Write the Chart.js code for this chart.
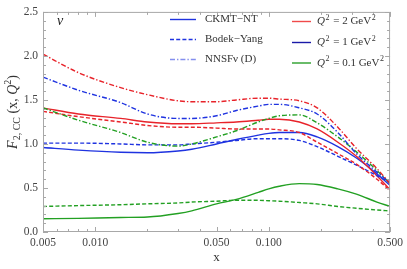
<!DOCTYPE html>
<html><head><meta charset="utf-8">
<script src="https://cdn.jsdelivr.net/npm/chart.js@4/dist/chart.umd.min.js"></script>
<style>html,body{margin:0;padding:0;background:#fff}#wrap{width:407px;height:269px}
.pre{font-family:"Liberation Serif";position:absolute;left:-999px}</style>
</head><body><span class="pre">x <i>x</i></span><div id="wrap"><canvas id="c" width="407" height="269"></canvas></div>
<script>
const xs = [0.005, 0.008, 0.014, 0.02, 0.03, 0.036, 0.05, 0.065, 0.087, 0.1, 0.115, 0.15, 0.19, 0.25, 0.32, 0.42, 0.5];
const ckmtQ2  = [1.41, 1.34, 1.29, 1.25, 1.23, 1.23, 1.24, 1.25, 1.27, 1.28, 1.28, 1.25, 1.17, 1.02, 0.86, 0.64, 0.48];
const ckmtQ1  = [0.96, 0.93, 0.905, 0.90, 0.92, 0.94, 1.00, 1.05, 1.10, 1.12, 1.13, 1.13, 1.08, 0.97, 0.84, 0.66, 0.53];
const ckmtQ01 = [0.15, 0.155, 0.165, 0.17, 0.21, 0.24, 0.32, 0.37, 0.45, 0.49, 0.52, 0.55, 0.54, 0.49, 0.43, 0.34, 0.29];
const byQ2    = [1.37, 1.31, 1.25, 1.21, 1.19, 1.19, 1.18, 1.17, 1.17, 1.17, 1.16, 1.13, 1.02, 0.89, 0.77, 0.60, 0.47];
const byQ1    = [1.01, 1.01, 1.00, 0.99, 0.99, 1.00, 1.02, 1.04, 1.06, 1.06, 1.06, 1.04, 0.97, 0.86, 0.76, 0.64, 0.56];
const byQ01   = [0.29, 0.30, 0.31, 0.32, 0.33, 0.34, 0.35, 0.36, 0.36, 0.355, 0.35, 0.335, 0.32, 0.29, 0.27, 0.25, 0.24];
const nnQ2    = [2.02, 1.81, 1.64, 1.56, 1.49, 1.48, 1.48, 1.50, 1.52, 1.52, 1.51, 1.49, 1.41, 1.19, 0.95, 0.72, 0.55];
const nnQ1    = [1.76, 1.61, 1.47, 1.34, 1.29, 1.29, 1.32, 1.38, 1.43, 1.45, 1.45, 1.41, 1.34, 1.13, 0.89, 0.68, 0.56];
const nnQ01   = [1.41, 1.27, 1.13, 1.02, 0.975, 1.00, 1.08, 1.15, 1.25, 1.29, 1.32, 1.33, 1.24, 1.08, 0.91, 0.70, 0.55];
const xTicks = [0.005, 0.01, 0.05, 0.1, 0.5];
const yTicks = [0, 0.5, 1.0, 1.5, 2.0, 2.5];

const RED = '#e8232a', BLUE = '#1f33e0', GREEN = '#23a023';
const SOLID = [], DASH = [4, 2.2], DOTDASH = [5, 2, 1.4, 2];
function pts(arr){ return xs.map((x,i)=>({x:x,y:arr[i]})); }
function ds(arr, color, dash, w){
  return {data: pts(arr), borderColor: color, borderDash: dash, borderWidth: w||1.4,
          pointRadius: 0, fill: false, cubicInterpolationMode: 'monotone'};
}
const SERIF = '"Liberation Serif", "DejaVu Serif", serif';

const deco = {
  id: 'deco',
  afterDraw(chart){
    const ctx = chart.ctx, a = chart.chartArea;
    const sx = chart.scales.x, sy = chart.scales.y;
    ctx.save();
    ctx.strokeStyle = '#a8a8a8'; ctx.lineWidth = 1; ctx.setLineDash([]);
    ctx.strokeRect(a.left+0.5, a.top+0.5, a.right-a.left-1, a.bottom-a.top-1);
    const majors = xTicks;
    for (let d=-3; d<=-1; d++){
      for (let m=1; m<=9; m++){
        const v = m*Math.pow(10,d);
        if (v < 0.005-1e-9 || v > 0.5+1e-9) continue;
        const isMaj = majors.some(t=>Math.abs(t-v)<1e-9);
        const len = isMaj ? 5 : 3;
        const px = Math.round(sx.getPixelForValue(v))+0.5;
        ctx.beginPath();
        ctx.moveTo(px, a.bottom); ctx.lineTo(px, a.bottom-len);
        ctx.moveTo(px, a.top); ctx.lineTo(px, a.top+len);
        ctx.stroke();
      }
    }
    for (let i=0;i<=25;i++){
      const v = i/10;
      const len = (i%5===0) ? 5 : 3;
      const py = Math.round(sy.getPixelForValue(v))+0.5;
      ctx.beginPath();
      ctx.moveTo(a.left, py); ctx.lineTo(a.left+len, py);
      ctx.moveTo(a.right, py); ctx.lineTo(a.right-len, py);
      ctx.stroke();
    }
    ctx.fillStyle = '#222';
    ctx.font = 'italic 14px ' + SERIF;
    ctx.textBaseline = 'middle'; ctx.textAlign = 'left';
    ctx.fillText('\u03BD', 57, 21);
    const leg1 = [['CKMT\u2212NT', SOLID, 1, 19.5], ['Bodek\u2212Yang', DASH, 1, 39.5], ['NNSF\u03BD (D)', DOTDASH, 0.55, 59.5]];
    ctx.font = '11px ' + SERIF;
    leg1.forEach(l=>{
      ctx.save();
      ctx.globalAlpha = l[2];
      ctx.strokeStyle = BLUE; ctx.lineWidth = 1.4; ctx.setLineDash(l[1]);
      ctx.beginPath(); ctx.moveTo(170, l[3]); ctx.lineTo(196, l[3]); ctx.stroke();
      ctx.restore();
      ctx.fillStyle = '#333';
      ctx.fillText(l[0], 205, l[3]);
    });
    const leg2 = [['2', '#f04a4a', 21.5], ['1', '#1a1aa8', 42.5], ['0.1', '#2aa02a', 63]];
    leg2.forEach(l=>{
      ctx.strokeStyle = l[1]; ctx.lineWidth = 1.4; ctx.setLineDash([]);
      ctx.beginPath(); ctx.moveTo(292, l[2]); ctx.lineTo(311, l[2]); ctx.stroke();
      ctx.fillStyle = '#333';
      let x = 317;
      ctx.font = 'italic 11px ' + SERIF; ctx.fillText('Q', x, l[2]); x += ctx.measureText('Q').width;
      ctx.font = '8px ' + SERIF; ctx.fillText('2', x+0.5, l[2]-4); x += ctx.measureText('2').width+1.5;
      ctx.font = '11px ' + SERIF; const t = ' = ' + l[0] + ' GeV'; ctx.fillText(t, x, l[2]); x += ctx.measureText(t).width;
      ctx.font = '8px ' + SERIF; ctx.fillText('2', x+0.5, l[2]-4);
    });
    ctx.fillStyle = '#333';
    ctx.font = '13px ' + SERIF; ctx.textAlign = 'center';
    ctx.fillText('x', (a.left+a.right)/2, 258);
    ctx.translate(13, 112); ctx.rotate(-Math.PI/2);
    const segs = [['F','italic 14px '],['2, CC','10px ',4],[' (x, ','14px '],['Q','italic 14px '],['2','10px ',-5],[')','14px ']];
    let tot = 0;
    segs.forEach(s=>{ ctx.font = s[1]+SERIF; tot += ctx.measureText(s[0]).width; });
    let x = -tot/2; ctx.textAlign = 'left';
    segs.forEach(s=>{ ctx.font = s[1]+SERIF; ctx.fillText(s[0], x, s[2]||0); x += ctx.measureText(s[0]).width; });
    ctx.restore();
  }
};

function build(){
new Chart(document.getElementById('c'), {
  type: 'line',
  data: { datasets: [
    ds(nnQ2, RED, DOTDASH), ds(nnQ1, BLUE, DOTDASH), ds(nnQ01, GREEN, DOTDASH),
    ds(byQ2, RED, DASH), ds(byQ1, BLUE, DASH), ds(byQ01, GREEN, DASH),
    ds(ckmtQ2, RED, SOLID), ds(ckmtQ1, BLUE, SOLID), ds(ckmtQ01, GREEN, SOLID)
  ]},
  options: {
    responsive: false, animation: false, devicePixelRatio: 1,
    layout: { padding: { top: 7, right: 14, left: 0, bottom: 0 } },
    plugins: { legend: { display: false }, tooltip: { enabled: false } },
    scales: {
      x: { type: 'logarithmic', min: 0.005, max: 0.5,
           afterBuildTicks: s => { s.ticks = xTicks.map(v=>({value:v})); },
           afterFit: s => { s.height = 37; },
           grid: { display: false, drawTicks: false }, border: { display: false },
           ticks: { autoSkip: false, maxRotation: 0, padding: 4, color: '#444',
                    font: { family: SERIF, size: 11.5 }, callback: v => Number(v).toFixed(3) } },
      y: { type: 'linear', min: 0, max: 2.5,
           afterBuildTicks: s => { s.ticks = yTicks.map(v=>({value:v})); },
           afterFit: s => { s.width = 43; },
           grid: { display: false, drawTicks: false }, border: { display: false },
           ticks: { padding: 5, color: '#444', font: { family: SERIF, size: 11.5 },
                    callback: v => Number(v).toFixed(1) } }
    }
  },
  plugins: [deco]
});
}
Promise.all([
  document.fonts.load('11px "Liberation Serif"'),
  document.fonts.load('italic 11px "Liberation Serif"')
]).then(build, build);
</script></body></html>
